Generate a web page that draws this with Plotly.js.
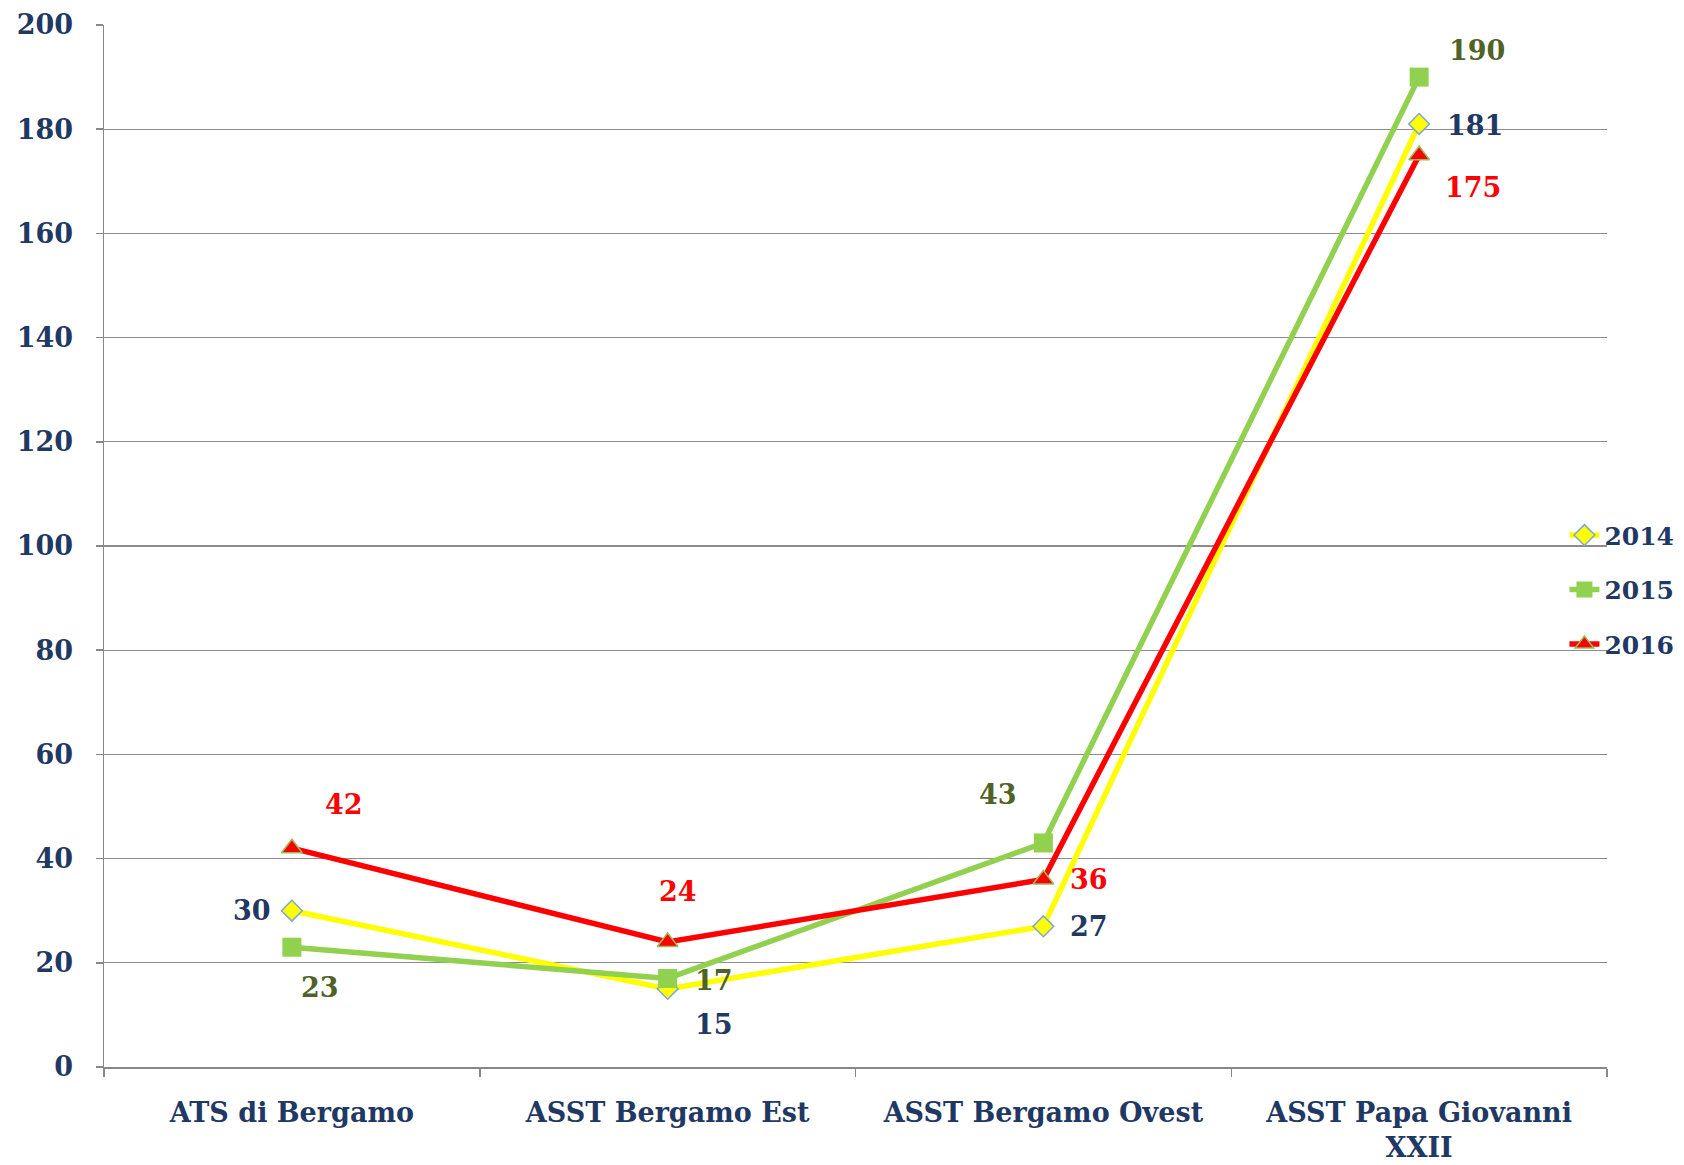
<!DOCTYPE html>
<html>
<head>
<meta charset="utf-8">
<script src="https://cdn.plot.ly/plotly-3.0.1.min.js"></script>
<style>html,body{margin:0;padding:0;background:#fff}#chart{width:1684px;height:1165px}</style>
</head>
<body>
<div id="chart"></div>
<script>
const categories = ["ATS di Bergamo", "ASST Bergamo Est", "ASST Bergamo Ovest", "ASST Papa Giovanni XXII"];
const tickLabels = ["ATS di Bergamo", "ASST Bergamo Est", "ASST Bergamo Ovest", "ASST Papa Giovanni<br>XXII"];
const seriesNames = ["2014", "2015", "2016"];
const values2014 = [30, 15, 27, 181];
const values2015 = [23, 17, 43, 190];
const values2016 = [42, 24, 36, 175];

// label offsets (px) per series, per point
const off2014 = [[-40, 0], [46, -36], [46, 0], [56, -2]];
const off2015 = [[28, -40], [46, -2], [-45, 48], [58, 27]];
const off2016 = [[52, 44], [10, 50], [46, 0], [54, -32]];

const FONT = "DejaVu Serif";
const NAVY = "#1F3864";

const traces = [
  {
    name: seriesNames[0], x: categories, y: values2014, type: "scatter", mode: "lines+markers",
    legendgroup: "a",
    line: {color: "#FFFF00", width: 5.5},
    marker: {symbol: "diamond", size: 16, color: "#FFFF00", line: {color: "#7FA6D6", width: 1.5}}
  },
  {
    name: seriesNames[1], x: categories, y: values2015, type: "scatter", mode: "lines+markers",
    legendgroup: "b",
    line: {color: "#92D050", width: 5.5},
    marker: {symbol: "square", size: 19, color: "#92D050"}
  },
  {
    name: seriesNames[2], x: categories, y: values2016, type: "scatter", mode: "lines+markers",
    legendgroup: "c",
    line: {color: "#FF0000", width: 5.5},
    marker: {symbol: "triangle-up", size: 18, color: "#FF0000", line: {color: "#9BBB59", width: 1.5}}
  }
];

const annotations = [];
function addLabels(vals, offs, color) {
  vals.forEach((v, i) => {
    annotations.push({
      x: categories[i], y: v, xref: "x", yref: "y", text: String(v), showarrow: false,
      xshift: offs[i][0], yshift: offs[i][1],
      font: {family: FONT, size: 27, color: color, weight: "bold"}
    });
  });
}
addLabels(values2014, off2014, NAVY);
addLabels(values2015, off2015, "#4F6228");
addLabels(values2016, off2016, "#FF0000");

const layout = {
  width: 1684, height: 1165,
  margin: {l: 104, r: 77, t: 25, b: 98, autoexpand: false},
  paper_bgcolor: "#fff", plot_bgcolor: "#fff",
  font: {family: FONT, size: 27, color: NAVY, weight: "bold"},
  showlegend: true,
  legend: {
    x: 0.929, xref: "container", xanchor: "left", y: 0.458, yanchor: "middle",
    bgcolor: "rgba(0,0,0,0)", traceorder: "grouped", tracegroupgap: 19,
    font: {family: FONT, size: 25, color: NAVY, weight: "bold"}
  },
  xaxis: {
    type: "category", range: [-0.5, 3.5],
    tickmode: "array", tickvals: categories, ticktext: tickLabels,
    tickson: "boundaries", ticks: "outside", ticklen: 8, tickcolor: "#888", tickwidth: 1.5,
    showline: true, linecolor: "#888", linewidth: 1.5,
    showgrid: false, zeroline: false,
    ticklabelstandoff: 21,
    tickfont: {family: FONT, size: 27, color: NAVY, weight: "bold"}
  },
  yaxis: {
    range: [0, 200], dtick: 20, tick0: 0,
    ticks: "outside", ticklen: 7, tickcolor: "#888", tickwidth: 1.5,
    showline: true, linecolor: "#888", linewidth: 1.5,
    showgrid: true, gridcolor: "#8C8C8C", gridwidth: 1.3, zeroline: false,
    ticklabelstandoff: 17,
    tickfont: {family: FONT, size: 27, color: NAVY, weight: "bold"}
  },
  annotations: annotations
};

Plotly.newPlot("chart", traces, layout, {displayModeBar: false, staticPlot: true});
</script>
</body>
</html>
